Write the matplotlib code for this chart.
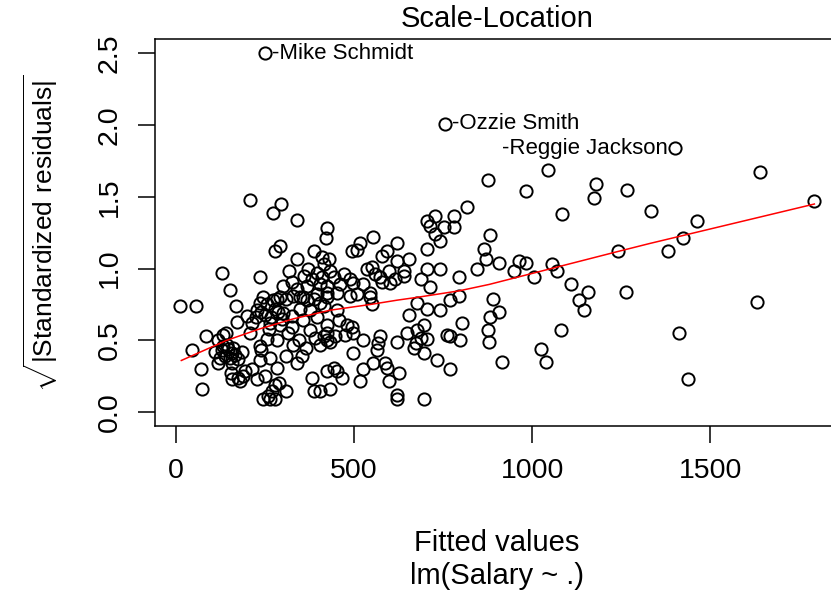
import matplotlib
matplotlib.use("Agg")
import matplotlib.pyplot as plt

plt.rcParams["font.family"] = ["Liberation Sans", "DejaVu Sans"]
plt.rcParams["mathtext.fontset"] = "custom"
plt.rcParams["mathtext.rm"] = "Liberation Sans"

# fitted values and sqrt(|standardized residuals|)
fitted = [
    13, 58, 47, 70, 74, 86, 129, 152, 169, 171, 133, 133, 143, 129, 147, 157, 138,
    124, 152, 166, 119, 157, 175, 155, 175, 158, 194, 180, 189, 110, 120, 140, 160, 185,
    208, 297, 272, 293, 279, 236, 250,
    236, 255, 274, 293, 227, 251, 279, 199, 213, 265, 293, 240, 283, 262, 210, 245, 268, 288, 298, 225,
    236, 255, 236, 283, 246, 265, 279, 279, 227, 250, 270, 260, 290, 265, 240, 215, 285,
    341, 387, 341,
    311, 330, 349, 368, 387, 302, 326, 349, 377, 396, 326, 358, 377,
    396, 382, 368, 326, 340, 396, 358,
    311, 354, 340, 382, 387, 311,
    315, 345, 365, 330, 392, 300, 318, 360, 372,
    426, 422, 415, 433, 410, 443, 471, 490, 424, 462,
    499, 452, 405, 424, 410, 429, 405, 424, 424, 415,
    405, 490, 452, 415, 457, 481, 495, 499, 424, 424,
    448, 476, 499, 443, 452, 466, 433, 405, 495, 424, 433,
    509, 555, 518, 593, 579, 551, 537, 598, 574, 527,
    560, 579, 546, 509, 546, 551, 527, 574, 569, 565,
    555, 588, 593, 598, 527, 516,
    621, 654, 621, 640, 616, 640, 602, 687, 678, 654,
    621, 649, 678, 687, 673, 696, 668, 696, 626, 621, 621, 696,
    706, 729, 715, 753, 781, 781, 729, 743, 706, 706,
    743, 715, 795, 706, 743, 771, 795, 706, 762, 771, 799, 734, 771, 757,
    818, 876, 865, 870, 882, 846, 804, 882, 875, 880,
    982, 908, 964, 982, 950, 889, 908, 915,
    1044, 1006, 1056, 1070, 1084, 1109, 1156, 1133, 1147,
    1081, 1025, 1039, 1178, 1175, 1266, 1242, 1264, 1335, 1402,
    1639, 1792, 1463, 1424, 1381, 1632, 1412, 1438,
]
sqrt_std_resid = [
    0.74, 0.74, 0.43, 0.30, 0.16, 0.53, 0.97, 0.85, 0.74, 0.63, 0.54, 0.46, 0.47, 0.43, 0.44, 0.41, 0.39,
    0.38, 0.38, 0.40, 0.34, 0.34, 0.37, 0.27, 0.24, 0.23, 0.29, 0.22, 0.25, 0.42, 0.50, 0.55, 0.45, 0.42,
    1.48, 1.45, 1.39, 1.16, 1.12, 0.94, 2.50,
    0.76, 0.75, 0.78, 0.80, 0.71, 0.68, 0.72, 0.67, 0.62, 0.62, 0.61, 0.70, 0.79, 0.58, 0.55, 0.80, 0.66, 0.70, 0.65, 0.66,
    0.46, 0.51, 0.36, 0.31, 0.09, 0.09, 0.09, 0.19, 0.23, 0.25, 0.15, 0.11, 0.20, 0.38, 0.43, 0.30, 0.50,
    1.34, 1.12, 1.07,
    0.79, 0.81, 0.80, 0.78, 0.79, 0.69, 0.67, 0.72, 0.71, 0.66, 0.59, 0.64, 0.57,
    0.97, 0.93, 0.88, 0.91, 0.86, 0.82, 0.80,
    0.39, 0.39, 0.34, 0.24, 0.15, 0.15,
    0.55, 0.50, 0.45, 0.47, 0.52, 0.88, 0.98, 0.95, 1.00,
    1.285, 1.21, 1.03, 0.98, 0.94, 0.94, 0.96, 0.93, 0.88, 0.89,
    0.90, 0.83, 0.89, 0.83, 1.08, 1.07, 0.76, 0.80, 0.61, 0.53,
    0.47, 0.81, 0.71, 0.74, 0.64, 0.61, 0.59, 0.55, 0.55, 0.50,
    0.53, 0.54, 0.41, 0.31, 0.29, 0.24, 0.16, 0.15, 1.12, 0.29, 0.49,
    1.13, 1.22, 1.18, 1.12, 1.09, 1.01, 1.00, 0.98, 0.94, 0.89,
    0.96, 0.91, 0.83, 0.82, 0.80, 0.75, 0.50, 0.53, 0.48, 0.43,
    0.34, 0.34, 0.31, 0.22, 0.30, 0.22,
    1.18, 1.07, 1.05, 0.98, 0.93, 0.95, 0.90, 0.93, 0.76, 0.68,
    0.49, 0.55, 0.57, 0.52, 0.48, 0.61, 0.45, 0.41, 0.27, 0.12, 0.09, 0.09,
    1.33, 1.37, 1.30, 1.29, 1.37, 1.29, 1.24, 1.19, 1.14, 1.00,
    1.00, 0.87, 0.94, 0.72, 0.71, 0.78, 0.81, 0.51, 0.54, 0.53, 0.50, 0.36, 0.30, 2.01,
    1.43, 1.62, 1.14, 1.07, 1.235, 1.00, 0.62, 0.665, 0.57, 0.49,
    1.54, 1.04, 1.05, 1.04, 0.98, 0.79, 0.70, 0.35,
    1.69, 0.94, 1.03, 0.98, 1.38, 0.89, 0.84, 0.78, 0.71,
    0.57, 0.44, 0.35, 1.59, 1.49, 1.55, 1.12, 0.84, 1.40, 1.84,
    1.67, 1.47, 1.33, 1.21, 1.12, 0.77, 0.55, 0.23,
]

# red smoother
smooth_fitted = [16, 143, 236, 330, 433, 546, 621, 678, 795, 880, 1242, 1330, 1792]
smooth_values = [0.36, 0.50, 0.58, 0.65, 0.71, 0.75, 0.78, 0.80, 0.845, 0.89, 1.12, 1.175, 1.45]

# labelled points
outlier_names = ["Mike Schmidt", "Ozzie Smith", "Reggie Jackson"]
outlier_fitted = [250, 757, 1402]
outlier_values = [2.50, 2.01, 1.84]
outlier_side = ["right", "right", "left"]

x_ticks = [0, 500, 1000, 1500]
y_ticks = [0.0, 0.5, 1.0, 1.5, 2.0, 2.5]

fig = plt.figure(figsize=(8.31, 5.94), dpi=100)
ax = fig.add_axes([0.1864, 0.2820, 0.8241, 0.6524])

ax.plot(fitted, sqrt_std_resid, linestyle="none", marker="o",
        markersize=8.8, markerfacecolor="none", markeredgecolor="black",
        markeredgewidth=1.4)
ax.plot(smooth_fitted, smooth_values, color="red", linewidth=1.1)

for name, x, y, side in zip(outlier_names, outlier_fitted, outlier_values, outlier_side):
    if side == "right":
        ax.annotate("-" + name, xy=(x, y), xytext=(5, 0), textcoords="offset points",
                    ha="left", va="center", fontsize=16)
    else:
        ax.annotate("-" + name, xy=(x, y), xytext=(-5.5, 0), textcoords="offset points",
                    ha="right", va="center", fontsize=16)

# R style 4% padding
xr = max(fitted) - min(fitted)
ax.set_xlim(min(fitted) - 0.04 * xr, max(fitted) + 0.04 * xr)
ymax = max(sqrt_std_resid)
ax.set_ylim(-0.04 * ymax, 1.04 * ymax)

ax.set_xticks(x_ticks)
ax.set_xticklabels([str(t) for t in x_ticks])
ax.set_yticks(y_ticks)
ax.set_yticklabels(["%.1f" % t for t in y_ticks])
ax.tick_params(axis="both", length=12, width=1.1, pad=11, labelsize=20.5,
               colors="black")
ax.tick_params(axis="y", labelrotation=90)
for lab in ax.get_yticklabels():
    lab.set_va("center")
for sp in ax.spines.values():
    sp.set_linewidth(1.1)

fig.text(0.598, 0.968, "Scale-Location", ha="center", va="center", fontsize=21)
fig.text(0.598, 0.086, "Fitted values", ha="center", va="center", fontsize=21)
fig.text(0.598, 0.030, "lm(Salary ~ .)", ha="center", va="center", fontsize=21)
fig.text(0.049, 0.608, r"$\sqrt{|\mathrm{Standardized\ residuals}|}$",
         rotation=90, ha="center", va="center", fontsize=19)

fig.savefig("out.png", dpi=100)
